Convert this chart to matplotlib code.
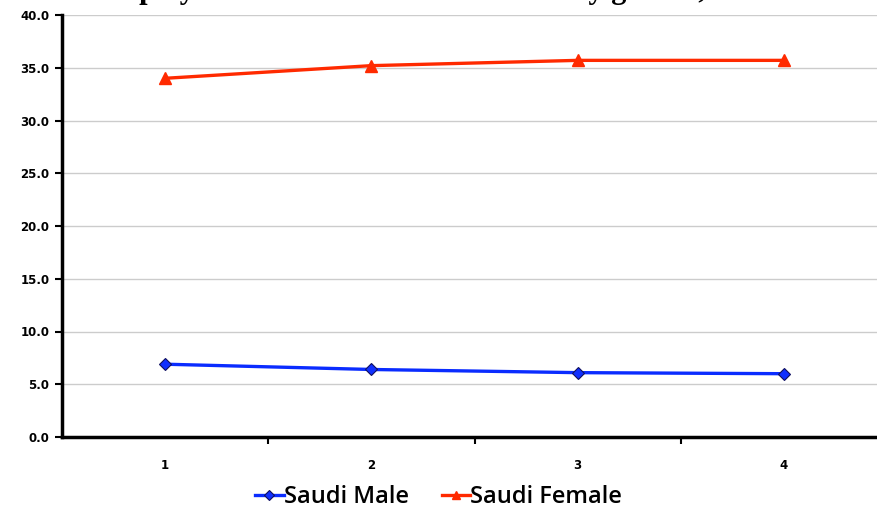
import matplotlib
matplotlib.use("Agg")
import matplotlib.pyplot as plt

periods = [1, 2, 3, 4]
period_labels = ["1", "2", "3", "4"]
saudi_male = [6.9, 6.4, 6.1, 6.0]
saudi_female = [34.0, 35.2, 35.7, 35.7]
y_ticks = [0, 5, 10, 15, 20, 25, 30, 35, 40]

fig = plt.figure(figsize=(8.77, 5.24), dpi=100)
ax = fig.add_axes([62 / 877, 87 / 524, 825 / 877, 422 / 524])

# title of the original is cut off by the top edge, only descenders show
fig.text(0.07, 1 + 2 / 524, "Unemployment rate of Saudi nationals by gender, %", ha="left",
         va="baseline", fontsize=22, fontweight="bold", family="Liberation Serif", color="black")

ax.plot(periods, saudi_male, color="#0a2cff", lw=2.4, marker="D", ms=6,
        mfc="#1030ff", mec="#101060", mew=0.8, label="Saudi Male", zorder=3)
ax.plot(periods, saudi_female, color="#ff2a00", lw=2.4, marker="^", ms=8,
        mfc="#ff2a00", mec="#ff2a00", label="Saudi Female", zorder=3)

ax.set_ylim(0, 40)
ax.set_xlim(0.5, 4.5)
ax.set_yticks(y_ticks)
ax.set_yticklabels([f"{v:.1f}" for v in y_ticks], fontsize=8.5, fontweight="bold")
ax.set_xticks(periods)
ax.set_xticklabels(period_labels, fontsize=8.5, fontweight="bold")
ax.set_xticks([1.5, 2.5, 3.5], minor=True)
ax.tick_params(axis="x", which="major", length=0, pad=16)
ax.tick_params(axis="x", which="minor", length=5, width=1.5, direction="out")
ax.tick_params(axis="y", length=5, width=1.5, direction="out", pad=4)
ax.yaxis.grid(True, color="#cccccc", lw=1)
ax.set_axisbelow(True)

for s in ["top", "right"]:
    ax.spines[s].set_visible(False)
for s in ["left", "bottom"]:
    ax.spines[s].set_linewidth(2.5)

fig.legend(loc="lower center", bbox_to_anchor=(0.5, -0.012), ncol=2, frameon=False,
           prop={"family": "Open Sans", "size": 17, "weight": "semibold"},
           handlelength=1.2, handletextpad=0.0, columnspacing=1.4, markerscale=0.8)

fig.savefig("out.png", dpi=100)
